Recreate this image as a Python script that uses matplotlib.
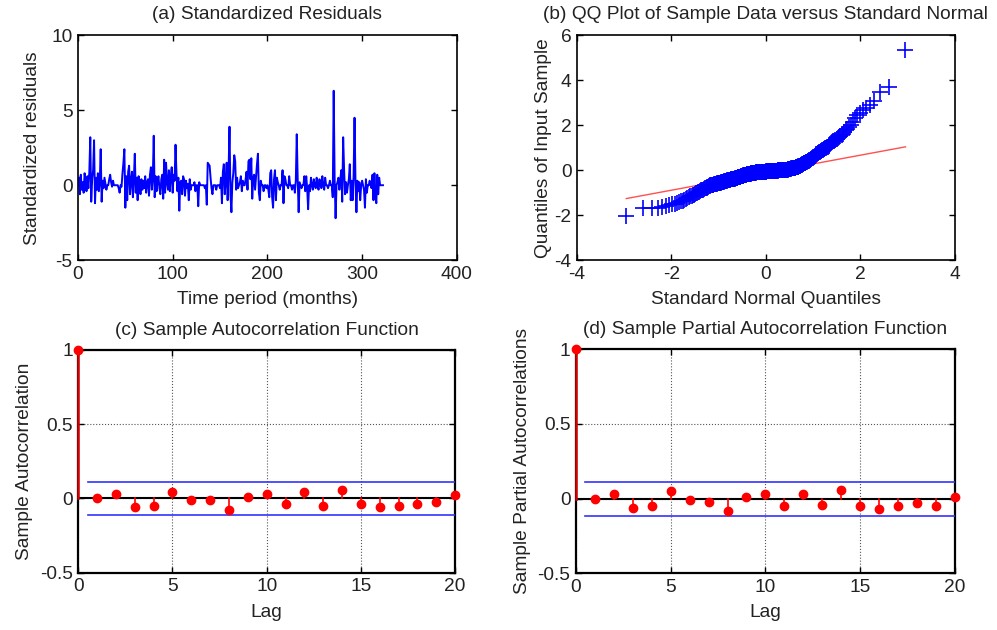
import numpy as np
import matplotlib
matplotlib.use("Agg")
import matplotlib.pyplot as plt
from statistics import NormalDist

plt.rcParams['font.family'] = ['Liberation Sans', 'DejaVu Sans']
plt.rcParams['axes.unicode_minus'] = False

# (a) standardized residuals, one value per month
residuals = [
    0.5, -0.6, 0.7, -0.3, 0.2, -0.5, 0.8, 0.3, -0.4, 0.6,
    -0.2, 0.9, 3.2, -1.1, 0.4, 1.0, 3.0, -1.2, 0.5, -0.3,
    0.8, -0.4, 0.2, 2.4, -1.1, 0.3, -0.2, 0.5, 0.1, -0.3,
    0.0, 0.0, 0.4, 0.7, 0.2, -0.1, 0.3, 0.0, 0.0, 0.0,
    0.0, 0.0, -0.2, -0.5, 0.0, -0.1, 0.8, 1.5, 2.4, -1.5,
    0.6, -1.0, 0.9, 1.3, -0.6, 0.3, 0.9, -0.8, 0.4, 2.1,
    -0.5, 0.5, -1.0, 0.6, 0.2, -0.6, 0.4, -0.3, 0.3, -0.2,
    0.6, -0.5, 0.2, 0.4, -0.7, 0.7, 1.2, -0.3, 0.5, 3.3,
    -0.8, 0.6, -0.4, 0.3, 0.6, -0.2, -0.6, 0.4, 0.7, -0.9,
    1.7, -0.5, 1.5, 0.2, -0.3, 1.0, -0.4, 0.6, 1.2, -0.5,
    0.7, 0.3, 2.7, 0.8, -0.4, 0.5, -1.7, 0.2, 0.3, -0.6,
    0.6, 0.4, -0.7, 0.3, -0.2, 0.1, -1.0, 0.4, -0.3, 0.0,
    0.0, 0.0, 0.2, -0.4, 0.0, 0.0, -1.4, 0.2, 0.0, 0.0,
    0.0, 0.0, 0.0, -0.2, 0.0, -1.3, 1.5, 1.4, 1.3, 0.5,
    -0.2, -0.6, 0.0, 0.0, 0.0, -0.3, 0.0, 0.0, 0.0, -0.2,
    0.5, -1.2, 0.9, 1.4, -0.6, 0.3, 1.5, -1.0, 1.0, 3.9,
    -0.6, -1.8, 0.2, 0.8, 2.0, 1.6, -0.3, 0.5, -0.2, 0.0,
    0.2, 0.6, -0.4, 0.3, 0.0, 0.0, 0.4, 0.9, -0.3, 1.6,
    1.7, 0.4, 1.8, -0.9, 0.5, 0.7, -0.3, 0.6, 1.4, 2.1,
    -0.5, -1.0, 0.3, 0.0, 0.0, -0.4, 0.0, 0.0, -0.2, 0.0,
    -0.3, -0.8, 0.8, 1.0, -0.8, -1.5, 0.4, 1.0, -1.0, 0.5,
    0.2, 0.0, -0.3, 0.0, 0.0, 1.0, -1.2, 0.6, 0.4, 0.0,
    0.0, -0.2, 0.6, 0.0, 0.0, -0.3, 0.0, 0.0, -0.5, 0.3,
    3.4, 0.4, -1.8, 0.2, 0.0, -0.2, 0.0, 0.0, 0.6, -0.4,
    0.6, -0.2, -1.6, 0.0, -0.4, 0.5, 0.0, -0.3, 0.4, 0.0,
    -0.2, 0.5, 0.0, -0.3, 0.4, 0.0, -0.2, 0.6, 0.0, -0.3,
    0.5, 0.0, 0.0, -0.2, 0.0, 0.3, 0.0, 0.0, -0.8, 6.3,
    0.4, -2.2, 0.0, 0.2, 0.5, -0.3, 0.4, 1.0, -1.1, 3.2,
    1.0, -0.6, 0.2, -0.5, 0.0, 0.4, 1.4, -1.0, 0.3, -1.0,
    0.6, 4.5, 0.3, -1.8, 0.3, -0.4, 0.2, -1.0, 0.0, 0.3,
    0.0, -0.3, -1.5, 0.4, -0.5, 0.0, 0.0, 0.3, 0.0, -0.2,
    0.7, -1.0, 0.8, -0.6, -1.2, 0.7, -0.6, 0.5, 0.0, 0.0,
    0.0, 0.0,
]

# (b) sorted sample quantiles
qq_sample = [
    -2.02, -1.70, -1.68, -1.66, -1.62, -1.58, -1.55, -1.52, -1.49, -1.46,
    -1.43, -1.39, -1.35, -1.31, -1.27, -1.23, -1.19, -1.15, -1.13, -1.10,
    -1.08, -1.05, -1.03, -1.00, -0.98, -0.95, -0.93, -0.90, -0.88, -0.86,
    -0.83, -0.81, -0.79, -0.77, -0.75, -0.73, -0.71, -0.69, -0.67, -0.66,
    -0.65, -0.64, -0.64, -0.63, -0.62, -0.61, -0.61, -0.60, -0.59, -0.59,
    -0.58, -0.57, -0.56, -0.56, -0.55, -0.54, -0.53, -0.52, -0.52, -0.51,
    -0.50, -0.49, -0.49, -0.48, -0.47, -0.46, -0.45, -0.45, -0.44, -0.43,
    -0.43, -0.42, -0.42, -0.41, -0.41, -0.40, -0.40, -0.39, -0.39, -0.38,
    -0.37, -0.37, -0.36, -0.35, -0.35, -0.34, -0.33, -0.33, -0.32, -0.31,
    -0.31, -0.30, -0.29, -0.28, -0.28, -0.27, -0.26, -0.26, -0.25, -0.24,
    -0.24, -0.23, -0.23, -0.22, -0.22, -0.21, -0.21, -0.20, -0.20, -0.19,
    -0.19, -0.18, -0.18, -0.17, -0.17, -0.16, -0.16, -0.15, -0.15, -0.15,
    -0.14, -0.14, -0.14, -0.13, -0.13, -0.13, -0.12, -0.12, -0.12, -0.11,
    -0.11, -0.11, -0.11, -0.10, -0.10, -0.10, -0.10, -0.09, -0.09, -0.09,
    -0.09, -0.09, -0.08, -0.08, -0.08, -0.08, -0.08, -0.07, -0.07, -0.07,
    -0.07, -0.07, -0.07, -0.07, -0.06, -0.06, -0.06, -0.06, -0.06, -0.06,
    -0.06, -0.05, -0.05, -0.05, -0.05, -0.05, -0.05, -0.05, -0.04, -0.04,
    -0.04, -0.04, -0.04, -0.04, -0.04, -0.04, -0.03, -0.03, -0.03, -0.03,
    -0.03, -0.03, -0.03, -0.03, -0.03, -0.02, -0.02, -0.02, -0.02, -0.02,
    -0.02, -0.02, -0.01, -0.01, -0.01, -0.01, -0.01, 0.00, 0.00, 0.00,
    0.00, 0.00, 0.01, 0.01, 0.01, 0.01, 0.01, 0.02, 0.02, 0.02,
    0.02, 0.02, 0.03, 0.03, 0.03, 0.03, 0.03, 0.04, 0.04, 0.05,
    0.05, 0.06, 0.06, 0.07, 0.07, 0.08, 0.08, 0.09, 0.09, 0.10,
    0.10, 0.11, 0.11, 0.12, 0.12, 0.13, 0.13, 0.14, 0.14, 0.15,
    0.16, 0.17, 0.18, 0.19, 0.20, 0.21, 0.22, 0.23, 0.24, 0.26,
    0.27, 0.28, 0.30, 0.31, 0.32, 0.34, 0.35, 0.37, 0.38, 0.40,
    0.41, 0.43, 0.44, 0.45, 0.46, 0.48, 0.51, 0.53, 0.55, 0.58,
    0.60, 0.63, 0.65, 0.68, 0.70, 0.72, 0.75, 0.77, 0.80, 0.82,
    0.84, 0.87, 0.89, 0.91, 0.93, 0.96, 0.98, 1.00, 1.02, 1.04,
    1.08, 1.12, 1.16, 1.20, 1.24, 1.28, 1.32, 1.36, 1.40, 1.44,
    1.48, 1.52, 1.56, 1.63, 1.70, 1.78, 1.85, 1.92, 2.00, 2.15,
    2.30, 2.45, 2.56, 2.67, 2.78, 2.89, 3.10, 3.48, 3.70, 5.35,
]

# (c) and (d) lags 0..20
lags = list(range(21))
acf_vals = [1.0, 0.00, 0.03, -0.06, -0.05, 0.04, -0.013, -0.01, -0.08, 0.01, 0.03,
            -0.04, 0.04, -0.05, 0.06, -0.04, -0.06, -0.05, -0.04, -0.027, 0.02]
pacf_vals = [1.0, 0.00, 0.03, -0.06, -0.05, 0.05, -0.01, -0.02, -0.08, 0.01, 0.03,
             -0.05, 0.03, -0.04, 0.06, -0.05, -0.07, -0.05, -0.03, -0.05, 0.01]
conf_bound = 0.113

FS = 13.8
TXT = '#222222'


def matlab_box(ax):
    for s in ax.spines.values():
        s.set_linewidth(1.2)
        s.set_color('black')
    ax.tick_params(direction='in', top=True, right=True, labelsize=FS,
                   labelcolor=TXT, length=4, width=1, pad=4)


fig = plt.figure(figsize=(9.97, 6.3), dpi=100)

# (a) residual series
ax = fig.add_axes([0.0782, 0.587, 0.380, 0.357])
months = np.arange(1, len(residuals) + 1)
ax.plot(months, residuals, color='#0000ff', lw=1.4)
ax.set_xlim(0, 400)
ax.set_ylim(-5, 10)
ax.set_xticks([0, 100, 200, 300, 400])
ax.set_yticks([-5, 0, 5, 10])
ax.set_title('(a) Standardized Residuals', fontsize=FS, color=TXT, pad=12)
ax.set_xlabel('Time period (months)', fontsize=FS, color=TXT, labelpad=6)
ax.set_ylabel('Standardized residuals', fontsize=FS, color=TXT, labelpad=7)
matlab_box(ax)

# (b) QQ plot
ax = fig.add_axes([0.5787, 0.587, 0.379, 0.357])
n = len(qq_sample)
theo = np.array([NormalDist().inv_cdf((i - 0.5) / n) for i in range(1, n + 1)])
samp = np.sort(np.array(qq_sample))
q1x, q3x = NormalDist().inv_cdf(0.25), NormalDist().inv_cdf(0.75)
q1y, q3y = np.percentile(samp, [25, 75])
slope = (q3y - q1y) / (q3x - q1x)
xs = np.array([theo[0], theo[-1]])
ax.plot(xs, q1y + slope * (xs - q1x), color='#ff5050', lw=1.0)
ax.plot(theo, samp, ls='none', marker='+', color='#0000ff', ms=11, mew=1.2)
ax.set_xlim(-4, 4)
ax.set_ylim(-4, 6)
ax.set_xticks([-4, -2, 0, 2, 4])
ax.set_yticks([-4, -2, 0, 2, 4, 6])
ax.set_title('(b) QQ Plot of Sample Data versus Standard Normal', fontsize=FS, color=TXT, pad=12)
ax.set_xlabel('Standard Normal Quantiles', fontsize=FS, color=TXT, labelpad=6)
ax.set_ylabel('Quantiles of Input Sample', fontsize=FS, color=TXT, labelpad=2)
matlab_box(ax)


def corr_panel(rect, vals, title, ylabel):
    ax = fig.add_axes(rect)
    ax.grid(True, ls=':', color='#555555', lw=0.8)
    ax.set_axisbelow(True)
    ax.axhline(0, color='black', lw=1.5, zorder=2)
    for k, v in zip(lags, vals):
        ax.plot([k, k], [0, v], color='#d00000' if k == 0 else '#ff0000',
                lw=1.8 if k == 0 else 1.2, zorder=5, clip_on=False)
    ax.plot(lags, vals, ls='none', marker='o', color='#ff0000', ms=6, zorder=6, clip_on=False)
    ax.plot([0.5, 20], [conf_bound, conf_bound], color='#3333ff', lw=1.2, zorder=3)
    ax.plot([0.5, 20], [-conf_bound, -conf_bound], color='#3333ff', lw=1.2, zorder=3)
    ax.set_xlim(0, 20)
    ax.set_ylim(-0.5, 1)
    ax.set_xticks([0, 5, 10, 15, 20])
    ax.set_yticks([-0.5, 0, 0.5, 1])
    ax.set_yticklabels(['-0.5', '0', '0.5', '1'])
    ax.set_title(title, fontsize=FS, color=TXT, pad=11)
    ax.set_xlabel('Lag', fontsize=FS, color=TXT, labelpad=6)
    ax.set_ylabel(ylabel, fontsize=FS, color=TXT, labelpad=5)
    matlab_box(ax)
    for s in ax.spines.values():
        s.set_linewidth(1.6)
    return ax


corr_panel([0.0785, 0.091, 0.378, 0.3535], acf_vals,
           '(c) Sample Autocorrelation Function', 'Sample Autocorrelation')
corr_panel([0.5777, 0.090, 0.380, 0.3556], pacf_vals,
           '(d) Sample Partial Autocorrelation Function', 'Sample Partial Autocorrelations')

fig.savefig('out.png', dpi=100)
